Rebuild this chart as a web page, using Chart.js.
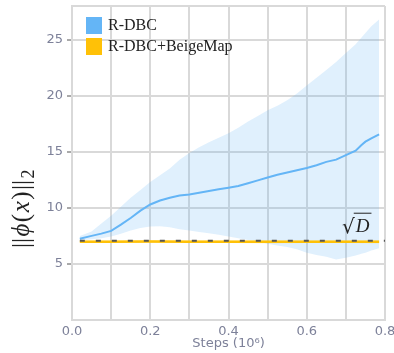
<!DOCTYPE html>
<html>
<head>
<meta charset="utf-8">
<script src="https://cdn.jsdelivr.net/npm/chart.js@4"></script>
<style>
  html, body { margin: 0; padding: 0; background: #fff; }
  #wrap { width: 394px; height: 353px; position: relative; }
</style>
</head>
<body>
<div id="wrap"><canvas id="chart"></canvas></div>
<script>
// steps in units of 1e6
const steps = [0.02, 0.05, 0.075, 0.1, 0.125, 0.15, 0.175, 0.2, 0.225, 0.25, 0.275, 0.3, 0.325, 0.35, 0.375, 0.4,
  0.425, 0.45, 0.475, 0.5, 0.525, 0.55, 0.575, 0.6, 0.625, 0.65, 0.675, 0.7, 0.725, 0.74, 0.75, 0.765, 0.785];
const rdbcMean = [7.25, 7.5, 7.7, 7.95, 8.5, 9.1, 9.75, 10.3, 10.65, 10.9, 11.1, 11.2, 11.35, 11.5, 11.65, 11.8,
  11.95, 12.2, 12.45, 12.7, 12.95, 13.15, 13.35, 13.55, 13.8, 14.1, 14.3, 14.7, 15.1, 15.6, 15.9, 16.2, 16.55];
const rdbcUpper = [7.5, 7.9, 8.6, 9.3, 10.1, 10.9, 11.6, 12.3, 12.9, 13.5, 14.3, 14.9, 15.4, 15.85, 16.25, 16.65,
  17.15, 17.7, 18.2, 18.7, 19.1, 19.6, 20.2, 20.9, 21.6, 22.3, 23.0, 23.8, 24.6, 25.2, 25.6, 26.2, 26.8];
const rdbcLower = [7.1, 7.2, 7.3, 7.45, 7.7, 7.97, 8.2, 8.33, 8.35, 8.27, 8.1, 7.97, 7.85, 7.73, 7.6, 7.44,
  7.3, 7.14, 7.0, 6.8, 6.65, 6.5, 6.3, 6.0, 5.8, 5.65, 5.4, 5.55, 5.75, 5.9, 6.0, 6.2, 6.4];

const beigeSteps = [0.02, 0.1, 0.2, 0.3, 0.4, 0.5, 0.6, 0.7, 0.785];
const beigeMean  = [6.97, 6.98, 6.99, 6.98, 6.98, 6.97, 6.98, 6.98, 6.97];
const beigeUpper = [7.08, 7.1, 7.11, 7.1, 7.1, 7.09, 7.1, 7.1, 7.09];
const beigeLower = [6.86, 6.86, 6.87, 6.86, 6.86, 6.85, 6.86, 6.86, 6.85];

const sqrtD = 7.07;
const sqrtDSteps = [0.02, 0.8];

const legendNames = ['R-DBC', 'R-DBC+BeigeMap'];
const BLUE = '#64b5f6';
const AMBER = '#ffc107';
const TICK_COLOR = '#7d8199';
const GRID = '#d9d9d9';

const pts = (xs, ys) => xs.map((x, i) => ({ x: x, y: ys[i] }));

const overlay = {
  id: 'overlay',
  afterDraw(chart) {
    const ctx = chart.ctx;
    const ys = chart.scales.y;
    ctx.save();

    // legend
    const colors = [BLUE, AMBER];
    legendNames.forEach((name, i) => {
      const top = 17 + i * 21;
      ctx.fillStyle = colors[i];
      ctx.fillRect(86, top, 16, 17);
      ctx.fillStyle = '#222';
      ctx.font = '16px "Liberation Serif"';
      ctx.textBaseline = 'middle';
      ctx.textAlign = 'left';
      ctx.fillText(name, 108, top + 9);
    });

    // sqrt(D) label
    const ly = ys.getPixelForValue(sqrtD) - 9;
    const lx = 342;
    ctx.fillStyle = '#222';
    ctx.strokeStyle = '#222';
    ctx.textBaseline = 'alphabetic';
    ctx.font = '20px "DejaVu Serif"';
    ctx.fillText('\u221A', lx, ly + 1);
    const rw = ctx.measureText('\u221A').width;
    ctx.font = 'italic 19px "Liberation Serif"';
    ctx.fillText('D', lx + rw + 1, ly);
    const dw = ctx.measureText('D').width;
    ctx.lineWidth = 1;
    ctx.beginPath();
    ctx.moveTo(lx + rw - 1, ly - 18.5);
    ctx.lineTo(lx + rw + dw + 3, ly - 18.5);
    ctx.stroke();

    // y axis title  ||phi(x)||_2
    const parts = [
      { t: '||', f: '25px "Liberation Serif"' },
      { t: '\u03D5', f: 'italic 25px "Liberation Serif"' },
      { t: '(', f: '25px "Liberation Serif"' },
      { t: 'x', f: 'italic 25px "Liberation Serif"' },
      { t: ')', f: '25px "Liberation Serif"' },
      { t: '||', f: '25px "Liberation Serif"' },
      { t: '2', f: '18px "Liberation Serif"', dy: 5 }
    ];
    let total = 0;
    parts.forEach(p => { ctx.font = p.f; p.w = ctx.measureText(p.t).width; total += p.w + 1.5; });
    ctx.translate(29, 208);
    ctx.rotate(-Math.PI / 2);
    let x = -total / 2;
    parts.forEach(p => {
      ctx.font = p.f;
      ctx.fillText(p.t, x, p.dy || 0);
      x += p.w + 1.5;
    });
    ctx.restore();
  }
};

new Chart(document.getElementById('chart'), {
  type: 'line',
  data: {
    datasets: [
      { data: pts(sqrtDSteps, [sqrtD, sqrtD]), borderColor: '#555', borderWidth: 2, borderDash: [5, 11], pointRadius: 0, fill: false },
      { data: pts(beigeSteps, beigeMean), borderColor: AMBER, borderWidth: 2.5, pointRadius: 0, fill: false },
      { data: pts(steps, rdbcMean), borderColor: BLUE, borderWidth: 2, pointRadius: 0, fill: false },
      { data: pts(beigeSteps, beigeUpper), borderWidth: 0, borderColor: 'transparent', pointRadius: 0, fill: '+1', backgroundColor: 'rgba(255,193,7,0.3)' },
      { data: pts(beigeSteps, beigeLower), borderWidth: 0, borderColor: 'transparent', pointRadius: 0, fill: false },
      { data: pts(steps, rdbcUpper), borderWidth: 0, borderColor: 'transparent', pointRadius: 0, fill: '+1', backgroundColor: 'rgba(100,181,246,0.2)' },
      { data: pts(steps, rdbcLower), borderWidth: 0, borderColor: 'transparent', pointRadius: 0, fill: false }
    ]
  },
  options: {
    responsive: true,
    maintainAspectRatio: false,
    animation: false,
    layout: { padding: { left: 0, right: 9, top: 6, bottom: 0 } },
    plugins: { legend: { display: false }, tooltip: { enabled: false } },
    scales: {
      x: {
        type: 'linear',
        min: 0, max: 0.8,
        grid: { color: GRID, lineWidth: 2, drawTicks: false },
        border: { color: GRID, width: 2 },
        ticks: {
          stepSize: 0.1,
          padding: 4,
          color: TICK_COLOR,
          font: { family: 'DejaVu Sans', size: 13 },
          maxRotation: 0,
          autoSkip: false,
          callback: v => (Math.round(v * 10) % 2 === 0 ? v.toFixed(1) : '')
        },
        title: {
          display: true,
          text: 'Steps (10\u2076)',
          color: TICK_COLOR,
          font: { family: 'DejaVu Sans', size: 13 },
          padding: { top: 0, bottom: 2 }
        },
        afterFit: s => { s.height = 33; s.paddingLeft = 0; s.paddingRight = 0; }
      },
      y: {
        min: 0, max: 28,
        grid: {
          color: GRID, lineWidth: 2, tickLength: 5, tickWidth: 1,
          tickColor: c => (c.tick && c.tick.value % 5 === 0 && c.tick.value !== 0 ? '#555' : 'rgba(0,0,0,0)')
        },
        border: { color: GRID, width: 2 },
        ticks: {
          stepSize: 5,
          padding: 4,
          color: TICK_COLOR,
          font: { family: 'DejaVu Sans', size: 13 },
          callback: v => (v % 5 === 0 && v !== 0 ? String(v) : '')
        },
        afterFit: s => { s.width = 72; s.paddingTop = 0; s.paddingBottom = 0; }
      }
    }
  },
  plugins: [overlay]
});
</script>
</body>
</html>
